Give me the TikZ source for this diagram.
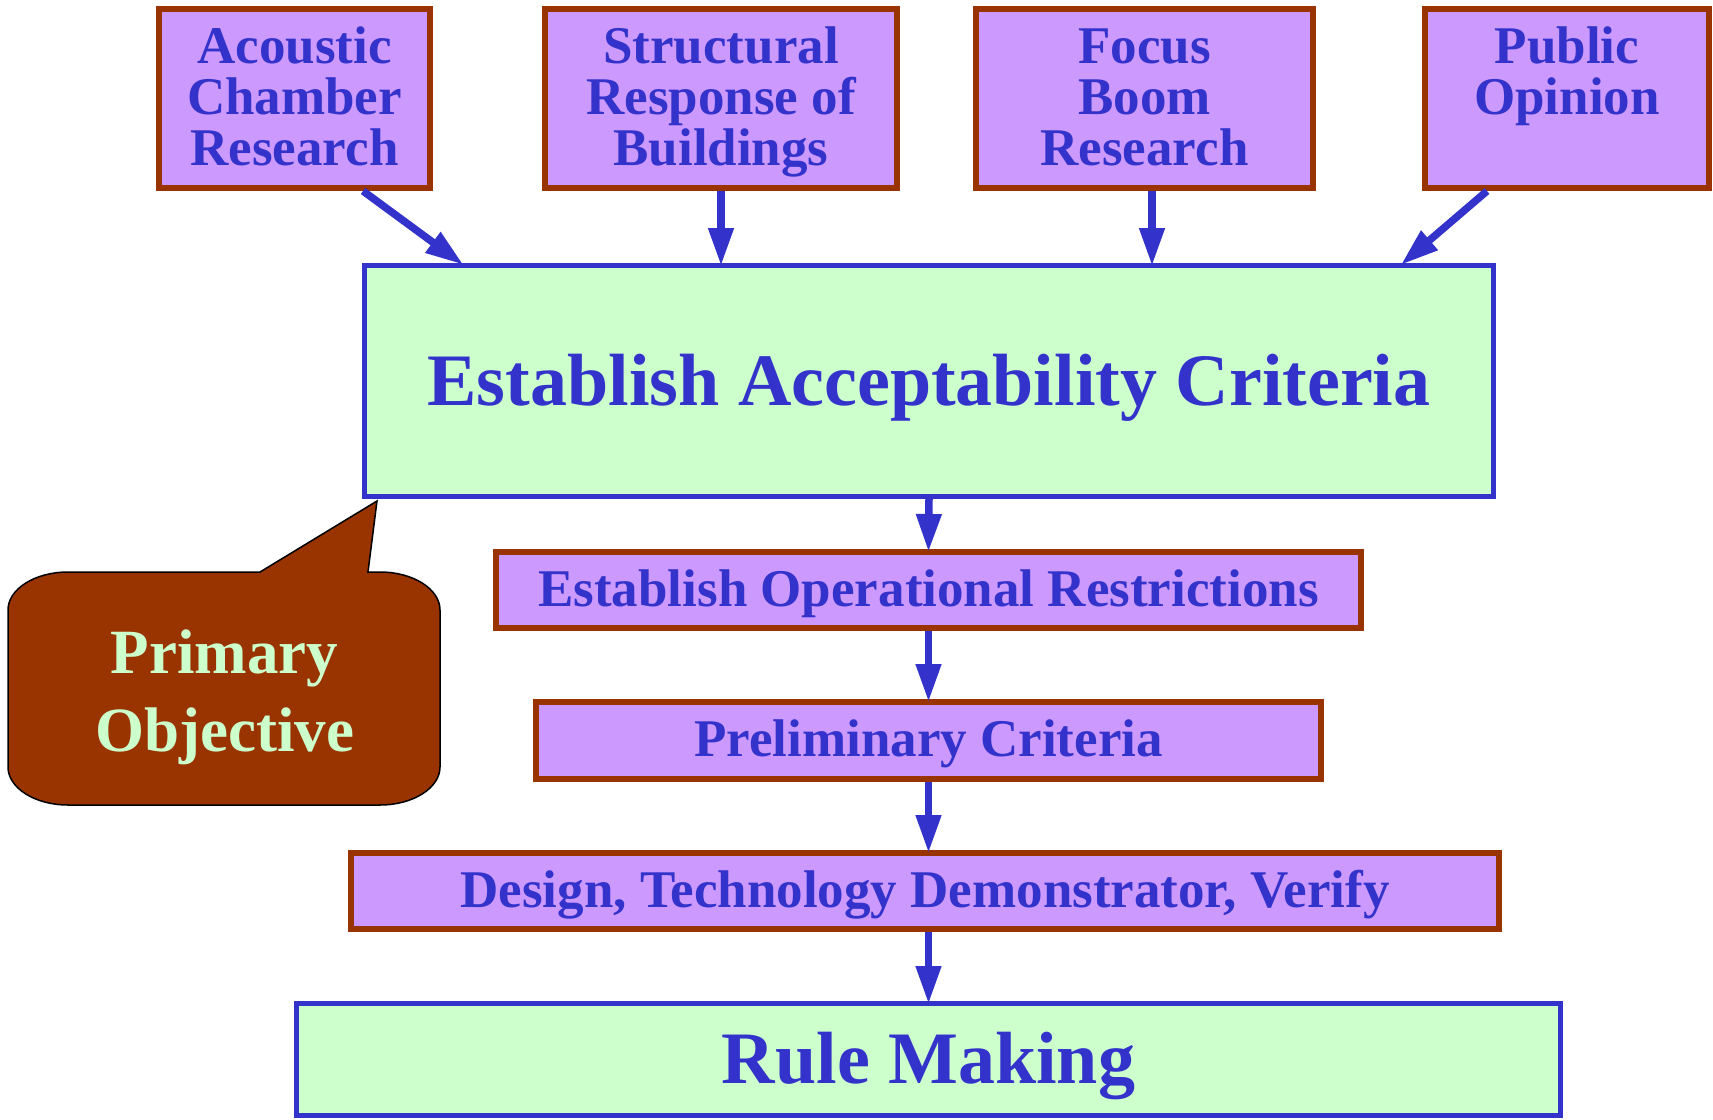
\documentclass[tikz,border=0pt]{standalone}
\usepackage{fontspec}
\setmainfont{Liberation Serif}
\usetikzlibrary{arrows.meta}
\definecolor{blu}{HTML}{3333CC}
\definecolor{brn}{HTML}{993300}
\definecolor{purp}{HTML}{CC99FF}
\definecolor{grn}{HTML}{CCFFCC}
\begin{document}
\begin{tikzpicture}[x=1pt,y=-1pt,
  brownbox/.style={rectangle,draw=brn,fill=purp,line width=6pt,inner sep=0pt},
  greenbox/.style={rectangle,draw=blu,fill=grn,line width=5pt,inner sep=0pt},
  smalltext/.style={text=blu,font=\bfseries\fontsize{53pt}{51.2pt}\selectfont},
  bigtext/.style={text=blu,font=\bfseries\fontsize{74pt}{80pt}\selectfont,text height=66pt,text depth=18pt},
  midbox/.style={brownbox,smalltext,text height=45pt,text depth=13pt},
  toptext/.style={smalltext,align=center,inner sep=0pt,anchor=north},
  arr/.style={draw=blu,line width=7.5pt,-{Triangle[length=38pt,width=24pt]},shorten >=-3pt}
]
\useasboundingbox (0,0) rectangle (1713,1119);

% top boxes
\node[brownbox,minimum width=271pt,minimum height=179pt] (acoustic) at (294.5,98.5) {};
\node[brownbox,minimum width=352pt,minimum height=179pt] (struct) at (721,98.5) {};
\node[brownbox,minimum width=337pt,minimum height=179pt] (focus) at (1144.5,98.5) {};
\node[brownbox,minimum width=284pt,minimum height=179pt] (public) at (1567,98.5) {};

\node[toptext] (acousticT) at (294.5,25) {\rule{0pt}{38pt}Acoustic\\Chamber\\Research};
\node[toptext] (structT) at (721,25) {\rule{0pt}{38pt}Structural\\Response of\\Buildings};
\node[toptext] (focusT) at (1144.5,25) {\rule{0pt}{38pt}Focus\\Boom\\Research};
\node[toptext] (publicT) at (1567,25) {\rule{0pt}{38pt}Public\\Opinion};

% main boxes
\node[greenbox,bigtext,minimum width=1129pt,minimum height=231pt] (main) at (929,381) {Establish Acceptability Criteria};
\node[midbox,minimum width=865pt,minimum height=76pt] (restr) at (928.5,590) {Establish Operational Restrictions};
\node[midbox,minimum width=785pt,minimum height=77pt] (prelim) at (928.5,740.5) {Preliminary Criteria};
\node[midbox,minimum width=1148pt,minimum height=76pt] (design) at (925,891) {Design, Technology Demonstrator, Verify};
\node[greenbox,bigtext,minimum width=1264pt,minimum height=112pt] (rule) at (928.5,1059.5) {Rule Making};

% arrows from top boxes
\draw[arr] ([xshift=68.5pt]acoustic.south) -- ([xshift=-468pt]main.north);
\draw[arr] (struct.south) -- (struct.south |- main.north);
\draw[arr] ([xshift=7.5pt]focus.south) -- ([xshift=7.5pt]focus.south |- main.north);
\draw[arr] ([xshift=-80pt]public.south) -- ([xshift=474pt]main.north);

% vertical chain
\draw[arr] (main.south) -- (restr.north);
\draw[arr] (restr.south) -- (prelim.north);
\draw[arr] (prelim.south) -- (prelim.south |- design.north);
\draw[arr] (prelim.south |- design.south) -- (rule.north);

% callout
\draw[fill=brn,draw=black,line width=1.5pt]
  (68,572) -- (260,572) -- (377,501) -- (368,572) -- (380,572)
  .. controls (413,572) and (440,589) .. (440,610)
  -- (440,767)
  .. controls (440,788) and (413,805) .. (380,805)
  -- (68,805)
  .. controls (35,805) and (8,788) .. (8,767)
  -- (8,610)
  .. controls (8,589) and (35,572) .. (68,572) -- cycle;
\node[text=grn,font=\bfseries\fontsize{63pt}{78pt}\selectfont,align=center,inner sep=0pt,anchor=north] (callout) at (224.5,629) {\rule{0pt}{44pt}Primary\\Objective};
\end{tikzpicture}
\end{document}
